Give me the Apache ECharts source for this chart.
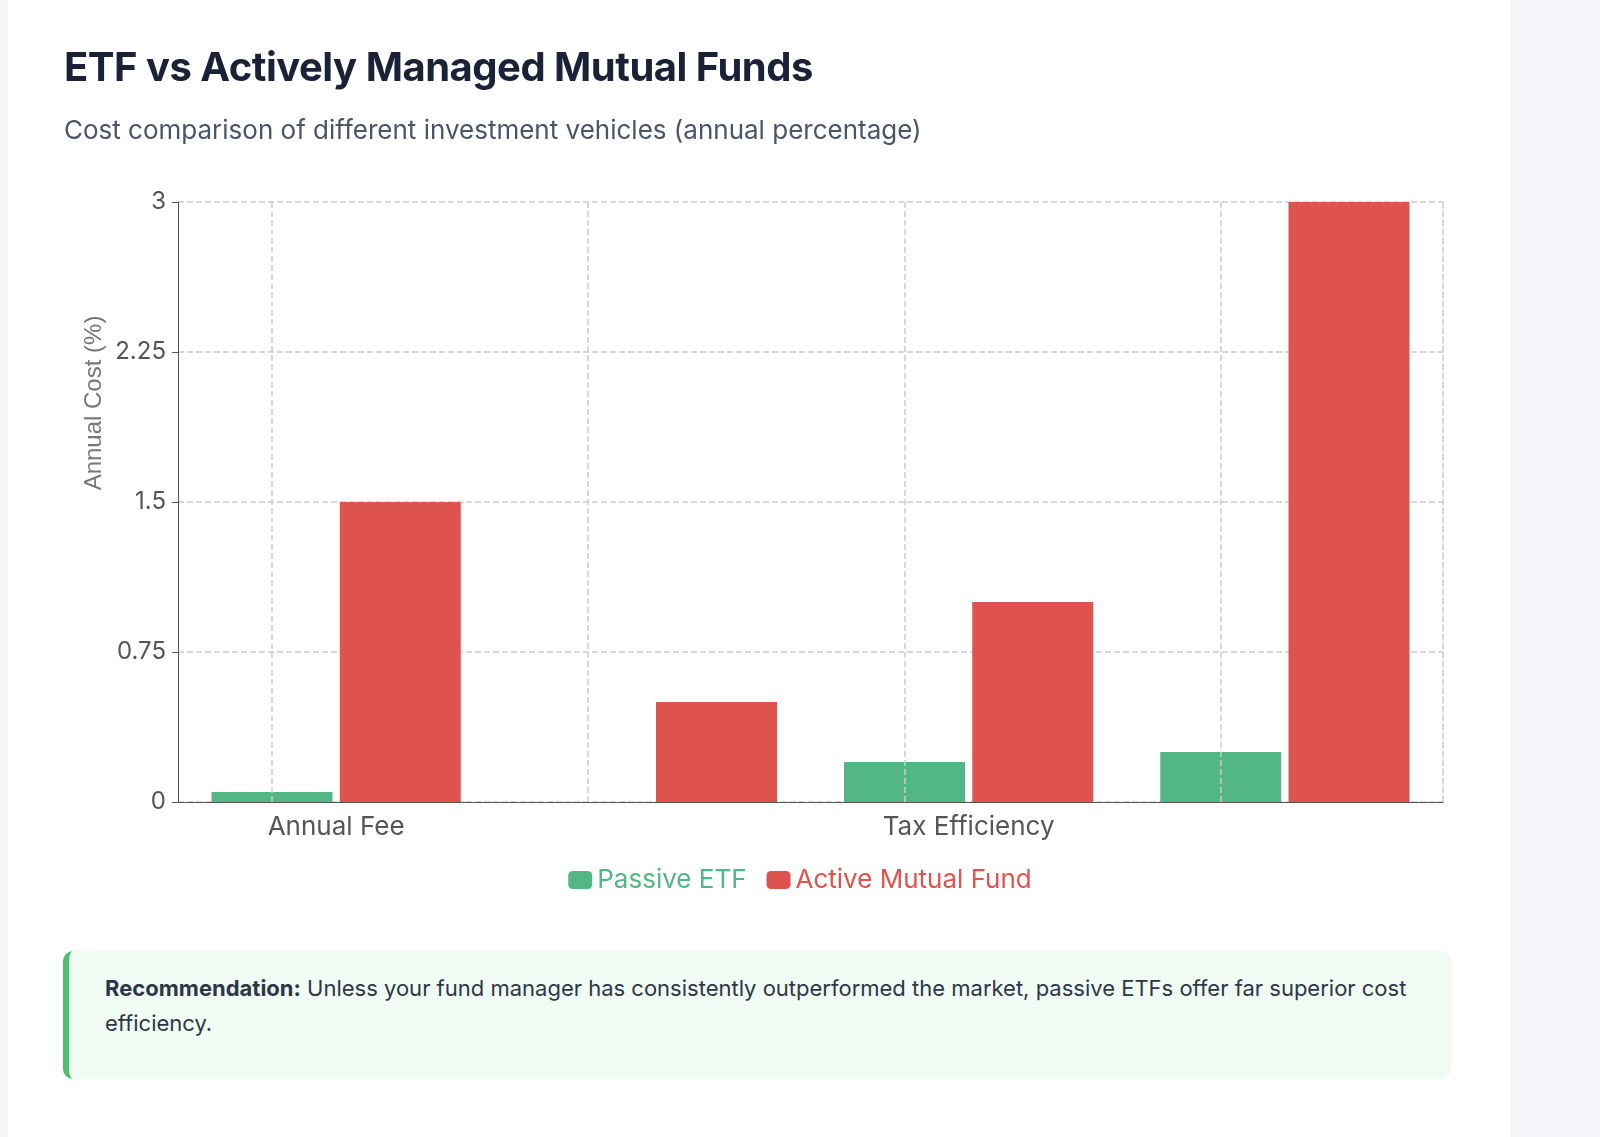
<!DOCTYPE html>
<html>
<head>
<meta charset="utf-8">
<script src="https://cdn.jsdelivr.net/npm/echarts@6/dist/echarts.min.js"></script>
<style>
  body { margin: 0; background: #f3f5f8; font-family: Inter, "Noto Sans", sans-serif; }
  .card { position: absolute; left: 8px; top: 0; width: 1502px; height: 1137px; background: #fff; }
  #chart { position: absolute; left: 0; top: 0; width: 1600px; height: 940px; }
  h1 { position: absolute; left: 64px; top: 42px; margin: 0; font-size: 40px; font-weight: 700; color: #1a2238; letter-spacing: -0.5px; }
  .sub { position: absolute; left: 64px; top: 114px; font-size: 26px; color: #4a5568; }
  .rec { position: absolute; left: 63px; top: 951px; width: 1346px; height: 88px; padding: 20px 0 20px 36px;
         background: #f0fbf4; border-left: 6px solid #4cc06a; border-radius: 10px; font-size: 22px; line-height: 35px; color: #2d3748; }
</style>
</head>
<body>
<div class="card"></div>
<div id="chart"></div>
<h1>ETF vs Actively Managed Mutual Funds</h1>
<div class="sub">Cost comparison of different investment vehicles (annual percentage)</div>
<div class="rec"><b>Recommendation:</b> Unless your fund manager has consistently outperformed the market, passive ETFs offer far superior cost efficiency.</div>
<script>
  const categories = ["Annual Fee", "Trading Cost", "Tax Efficiency", "Total Annual Impact"];
  const passive = [0.05, 0, 0.2, 0.25];
  const active = [1.5, 0.5, 1.0, 3.0];
  const GREEN = "#52b685", RED = "#df534e";

  const chart = echarts.init(document.getElementById("chart"));
  chart.setOption({
    textStyle: { fontFamily: "Inter, 'Noto Sans', sans-serif" },
    grid: { left: 178, top: 202, width: 1265, height: 600 },
    legend: {
      top: 862, left: "center", itemWidth: 24, itemHeight: 18, itemGap: 20,
      textStyle: { fontSize: 26 },
      data: [
        { name: "Passive ETF", textStyle: { color: GREEN } },
        { name: "Active Mutual Fund", textStyle: { color: RED } }
      ]
    },
    graphic: [{
      type: "text", left: 68, top: 305,
      rotation: Math.PI / 2,
      style: { text: "Annual Cost (%)", fontSize: 24, fill: "#777", align: "center" },
      x: 82, y: 403, left: null, top: null
    }],
    xAxis: {
      type: "category", data: categories,
      axisLine: { lineStyle: { color: "#555" } },
      axisTick: { alignWithLabel: true, length: 6, lineStyle: { color: "#555" } },
      axisLabel: { fontSize: 26, color: "#555", margin: 12 },
      splitLine: { show: false }
    },
    yAxis: [{
      type: "value", min: 0, max: 3, interval: 0.75,
      axisLine: { show: true, lineStyle: { color: "#555" } },
      axisTick: { show: true, length: 6, lineStyle: { color: "#555" } },
      axisLabel: { fontSize: 24, color: "#555", margin: 12 },
      splitLine: { lineStyle: { type: "dashed", color: "#ccc", width: 1.5 } }
    }, {
      type: "value", min: 0, max: 3, interval: 0.75, position: "right",
      axisLine: { show: true, lineStyle: { type: "dashed", color: "#ccc", width: 1.5 } },
      axisTick: { show: false }, axisLabel: { show: false }, splitLine: { show: false }
    }],
    series: [{
      name: "Passive ETF", type: "bar", data: passive, barWidth: 121, barGap: "6%",
      itemStyle: { color: GREEN },
      markLine: {
        silent: true, symbol: "none", label: { show: false },
        lineStyle: { type: "dashed", color: "#ccc", width: 1.5 },
        data: categories.map(c => ({ xAxis: c }))
      }
    }, {
      name: "Active Mutual Fund", type: "bar", data: active, barWidth: 121,
      itemStyle: { color: RED }
    }]
  });
</script>
</body>
</html>
